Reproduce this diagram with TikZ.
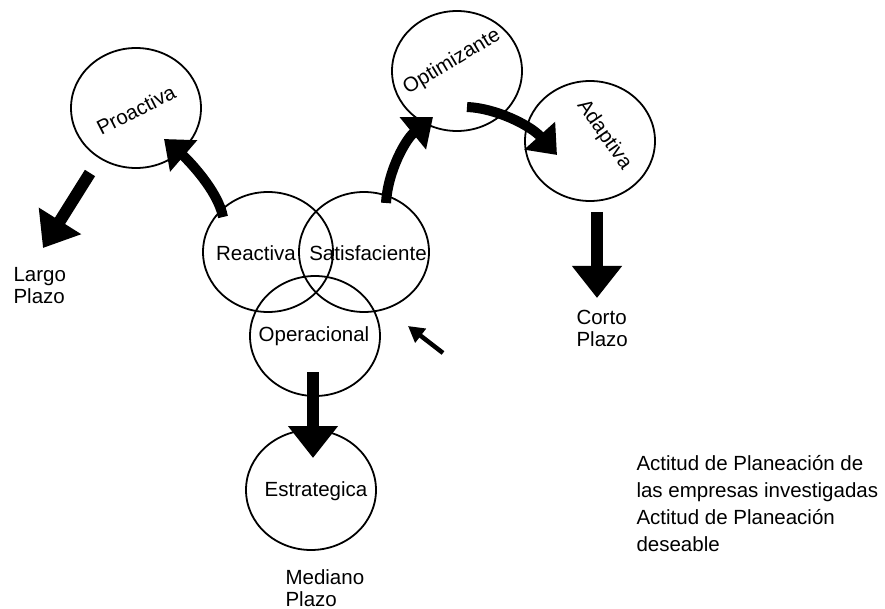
\documentclass[tikz,border=0pt]{standalone}
\usepackage{fontspec}
\setmainfont{Liberation Sans}
\usepackage{tikz}
\usetikzlibrary{shapes.geometric,arrows.meta}

\begin{document}
\begin{tikzpicture}[x=1pt,y=-1pt,font=\fontsize{20.5}{22}\selectfont,
  ring/.style={draw,ellipse,line width=1.8pt,minimum width=130pt,minimum height=120pt,inner sep=0pt},
  fat/.style={line width=12pt,-{Triangle[width=48pt,length=32pt]}},
  curvy/.style={line width=10pt,-{Triangle[width=40pt,length=26pt]}},
  pointer/.style={line width=4.5pt,-{Triangle[width=17pt,length=16pt]}}]
\useasboundingbox (0,0) rectangle (885,609);
% actitudes
\node[ring] (proa) at (136,108) {};
\node[ring] (reac) at (268,252) {};
\node[ring] (sati) at (364,252) {};
\node[ring] (oper) at (315,336) {};
\node[ring] (estr) at (311,490) {};
\node[ring] (opti) at (457,71) {};
\node[ring] (adap) at (590,141) {};
\node[rotate=27] (proatxt) at (136,110) {Proactiva};
\node (reactxt) at (256,253) {Reactiva};
\node (satitxt) at (368,253) {Satisfaciente};
\node (opertxt) at (314,336) {Operacional};
\node (estrtxt) at (316,491) {Estrategica};
\node[rotate=31] (optitxt) at (452,62) {Optimizante};
\node[rotate=-55] (adaptxt) at (604,135) {Adaptiva};
% plazos
\node[anchor=west,align=left] (largo) at (10,286) {Largo\\Plazo};
\node[anchor=west,align=left] (corto) at (573,328) {Corto\\Plazo};
\node[anchor=west,align=left] (mediano) at (282,588) {Mediano\\Plazo};
\node[anchor=west,align=left,font=\fontsize{20.5}{27}\selectfont] (leyenda) at (633,504)
  {Actitud de Planeación de\\las empresas investigadas\\Actitud de Planeación\\deseable};
% flechas
\coordinate (largoA) at (90,173);  \coordinate (largoB) at (43,248);
\coordinate (cortoA) at (597,212); \coordinate (cortoB) at (597,298);
\coordinate (operA) at (313,372);  \coordinate (operB) at (313,458);
\coordinate (reacA) at (223,217);  \coordinate (proaB) at (164,139);
\coordinate (satiA) at (386,203);  \coordinate (optiB) at (433,117);
\coordinate (optiA) at (467,107);  \coordinate (adapB) at (557,155);
\coordinate (flechaA) at (443,353); \coordinate (flechaB) at (408,326);
\draw[fat] (largoA) -- (largoB);
\draw[fat] (cortoA) -- (cortoB);
\draw[fat] (operA) -- (operB);
\draw[curvy] (reacA) .. controls (218,190) and (186,158) .. (proaB);
\draw[curvy] (satiA) .. controls (388,170) and (406,139) .. (optiB);
\draw[curvy] (optiA) .. controls (495,108) and (530,125) .. (adapB);
\draw[pointer] (flechaA) -- (flechaB);
\end{tikzpicture}
\end{document}
